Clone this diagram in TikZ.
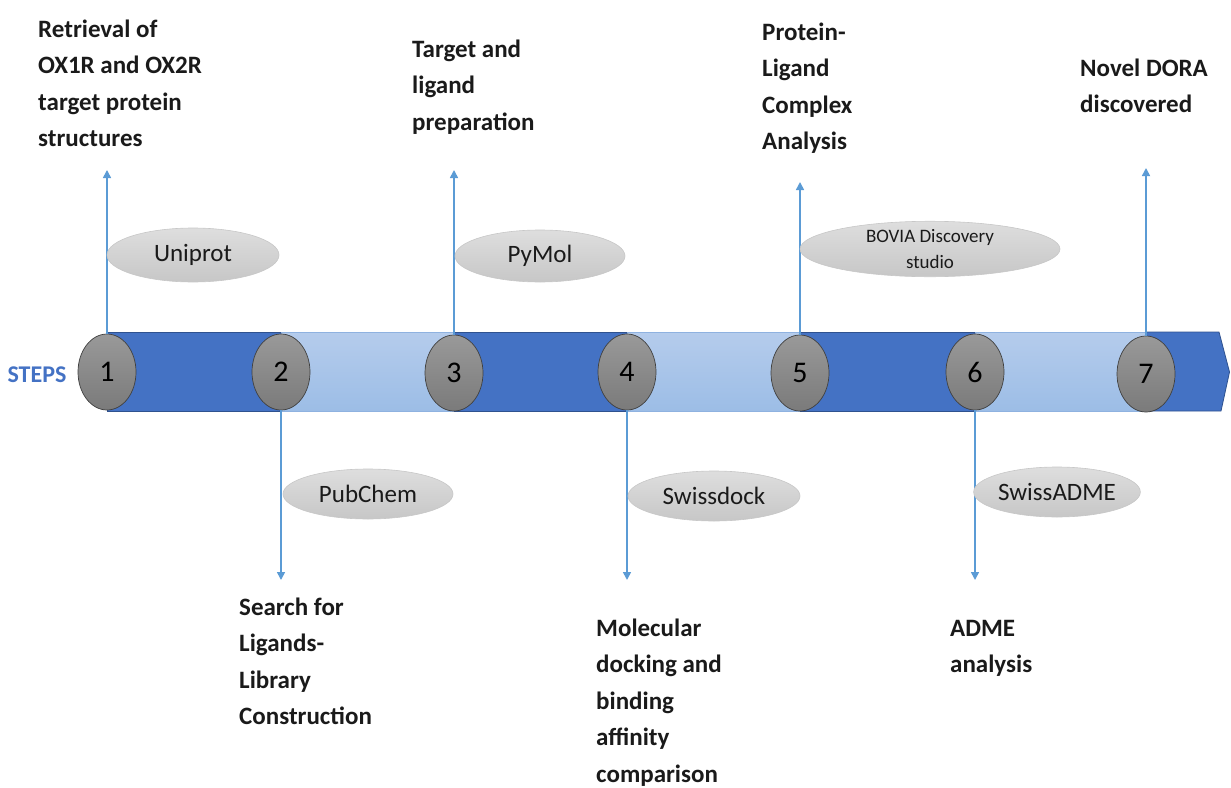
\documentclass[tikz,border=0pt]{standalone}
\usepackage{fontspec}
\setmainfont{Carlito}
\usetikzlibrary{shapes.geometric,arrows.meta}
\definecolor{darkbar}{HTML}{4472C4}
\definecolor{darkedge}{HTML}{2F528F}
\definecolor{lighttop}{HTML}{B5CCEC}
\definecolor{lightbot}{HTML}{9CBDE6}
\definecolor{lightedge}{HTML}{8FB2E0}
\definecolor{arrowblue}{HTML}{5B9BD5}
\definecolor{stepblue}{HTML}{4472C4}
\definecolor{txt}{HTML}{1A1A1A}
\newcommand{\stacklines}[1]{\begin{tabular}[t]{@{}l@{}}#1\end{tabular}}
\begin{document}
\begin{tikzpicture}[x=1pt,y=-1pt,
  heading/.style={anchor=base west, inner sep=0, text=txt, font=\fontsize{25}{36.5}\selectfont\bfseries},
  darkseg/.style={fill=darkbar, draw=darkedge, line width=0.8pt},
  lightseg/.style={top color=lighttop, bottom color=lightbot, draw=lightedge, line width=0.8pt},
  stepnum/.style={ellipse, minimum width=58, minimum height=76, inner sep=0, draw=black!75, line width=0.7pt, top color=black!40, bottom color=black!52, text=black, font=\fontsize{30}{30}\selectfont},
  tool/.style={ellipse, inner sep=0, draw=black!22, line width=0.6pt, top color=black!13, bottom color=black!22, text=txt, font=\fontsize{25}{26}\selectfont, align=center},
  smalltool/.style={tool, font=\fontsize{19}{26}\selectfont},
  link/.style={draw=arrowblue, line width=1.6pt, -{Triangle[width=8pt,length=8pt]}}
]
\useasboundingbox (0,0) rectangle (1231,787);

% timeline bar
\path[darkseg] (107,332) rectangle (281,411);
\path[lightseg] (281,332) rectangle (454,411);
\path[darkseg] (454,332) rectangle (627,411);
\path[lightseg] (627,332) rectangle (800,411);
\path[darkseg] (800,332) rectangle (975,411);
\path[lightseg] (975,332) rectangle (1146,411);
\path[darkseg] (1146,332) -- (1219,332) -- (1229.5,372) -- (1221,411) -- (1146,411) -- cycle;

% steps label
\node[anchor=center, inner sep=0, text=stepblue, font=\fontsize{24}{24}\selectfont\bfseries] (steps) at (37,375) {STEPS};

% step circles
\node[stepnum] (c1) at (107,372) {1};
\node[stepnum] (c2) at (281,372) {2};
\node[stepnum] (c3) at (454,373) {3};
\node[stepnum] (c4) at (627,372) {4};
\node[stepnum] (c5) at (800,373) {5};
\node[stepnum] (c6) at (975,372) {6};
\node[stepnum] (c7) at (1146,374) {7};

% arrow tips
\coordinate (t1) at (107,170);
\coordinate (t2) at (281,580);
\coordinate (t3) at (454,170);
\coordinate (t4) at (627,580);
\coordinate (t5) at (800,182);
\coordinate (t6) at (975,580);
\coordinate (t7) at (1146,168);

\draw[link] (c1.north) -- (t1);
\draw[link] (c2.south) -- (t2);
\draw[link] (c3.north) -- (t3);
\draw[link] (c4.south) -- (t4);
\draw[link] (c5.north) -- (t5);
\draw[link] (c6.south) -- (t6);
\draw[link] (c7.north) -- (t7);

% tools
\node[tool, minimum width=172, minimum height=54] (uniprot) at (193,255) {Uniprot};
\node[tool, minimum width=170, minimum height=52] (pymol) at (540,256) {PyMol};
\node[smalltool, minimum width=260, minimum height=53] (bovia) at (930,249) {BOVIA Discovery\\studio};
\node[tool, minimum width=170, minimum height=50] (pubchem) at (368,494) {PubChem};
\node[tool, minimum width=172, minimum height=50] (swissdock) at (714,496) {Swissdock};
\node[tool, minimum width=165, minimum height=50] (swissadme) at (1057,492) {SwissADME};

% headings
\node[heading] (h1) at (38,37) {\stacklines{Retrieval of\\OX1R and OX2R\\target protein\\structures}};
\node[heading] (h3) at (412,57) {\stacklines{Target and\\ligand\\preparation}};
\node[heading] (h5) at (762,40) {\stacklines{Protein-\\Ligand\\Complex\\Analysis}};
\node[heading] (h7) at (1080,76) {\stacklines{Novel DORA\\discovered}};
\node[heading] (h2) at (239,615) {\stacklines{Search for\\Ligands-\\Library\\Construction}};
\node[heading] (h4) at (596,636) {\stacklines{Molecular\\docking and\\binding\\affinity\\comparison}};
\node[heading] (h6) at (950,636) {\stacklines{ADME\\analysis}};
\end{tikzpicture}
\end{document}
